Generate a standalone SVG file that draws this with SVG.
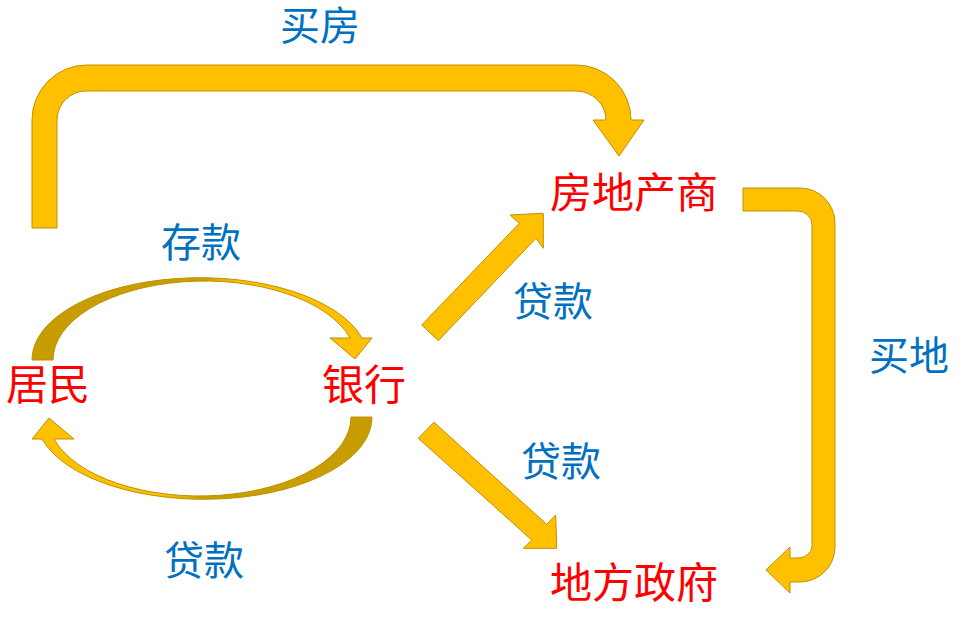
<svg xmlns="http://www.w3.org/2000/svg" width="964" height="618" viewBox="0 0 964 618">
<style>
.arrow{fill:#FFC000;stroke:#BF9000;stroke-width:1;stroke-linejoin:miter}
.curved{stroke:#BF9000;stroke-width:1}
.node{font-family:"Noto Sans CJK SC","Noto Sans",sans-serif;font-size:42px;fill:#FF0000;text-anchor:middle}
.lbl{font-family:"Noto Sans CJK SC","Noto Sans",sans-serif;font-size:40px;fill:#0070C0;text-anchor:middle}
</style>
<defs>
<linearGradient id="arcGrad" x1="0" y1="0" x2="1" y2="0">
<stop offset="0" stop-color="#C79C00"/>
<stop offset="0.5" stop-color="#C9A000"/>
<stop offset="0.62" stop-color="#FFC000"/>
<stop offset="1" stop-color="#FFC000"/>
</linearGradient>
</defs>
<rect width="964" height="618" fill="#FFFFFF"/>
<g id="connectors">
<path id="arrow-buy-house" class="arrow" d="M32,228 L32,120 A55,55 0 0 1 87,65 L576,65 A55,55 0 0 1 631,120 L644,120 L619,156 L593,120 L606,120 A30,29 0 0 0 576,91 L86,91 A29,29 0 0 0 57,120 L57,228 Z"/>
<path id="arrow-deposit" class="curved" fill="url(#arcGrad)" d="M32,360 A168,82 0 0 1 362,338 L372,338 L355,359 L330,338 L350,338 A151.5,79 0 0 0 53,360 Z"/>
<path id="arrow-loan-resident" class="curved" fill="url(#arcGrad)" transform="rotate(180 202 388.5)" d="M32,360 A168,82 0 0 1 362,338 L372,338 L355,359 L330,338 L350,338 A151.5,79 0 0 0 53,360 Z"/>
<path id="arrow-loan-developer" class="arrow" d="M421.7,325 L519.3,223.3 L510,215 L543.3,213.3 L543.3,248.3 L536,238.3 L438.3,340.7 Z"/>
<path id="arrow-loan-gov" class="arrow" d="M434,422.3 L546.7,524.3 L555.7,515 L556.7,548.3 L523.3,548.3 L531.7,540 L418.3,438.3 Z"/>
<path id="arrow-buy-land" class="arrow" d="M743,188 L800,188 A35,35 0 0 1 835,223 L835,547 A35,35 0 0 1 800,582 L790,582 L790,593 L766,570 L790,547 L790,558 L798,558 A14,12 0 0 0 812,546 L812,225 A14,14 0 0 0 798,211 L743,211 Z"/>
</g>
<g id="node-resident"><text class="node" x="48" y="400">居民</text></g>
<g id="node-bank"><text class="node" x="364" y="400">银行</text></g>
<g id="node-developer"><text class="node" x="634" y="208">房地产商</text></g>
<g id="node-gov"><text class="node" x="634" y="598">地方政府</text></g>
<g id="labels">
<text class="lbl" x="320" y="40">买房</text>
<text class="lbl" x="201" y="257">存款</text>
<text class="lbl" x="553" y="316">贷款</text>
<text class="lbl" x="909" y="370">买地</text>
<text class="lbl" x="561" y="476">贷款</text>
<text class="lbl" x="204" y="575">贷款</text>
</g>
</svg>
